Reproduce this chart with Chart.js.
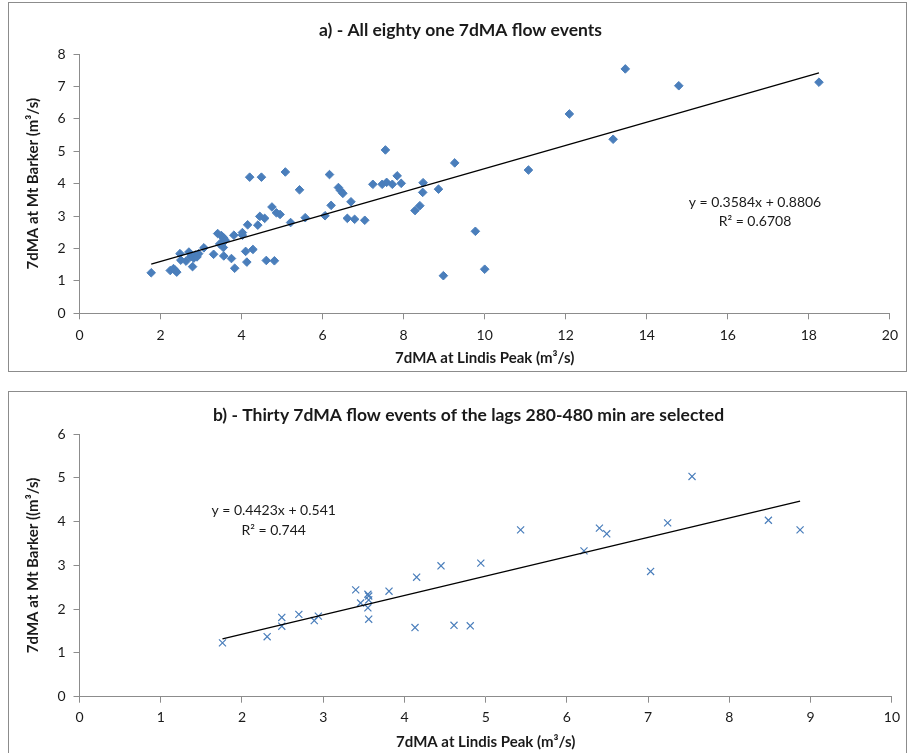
<!DOCTYPE html>
<html lang="en">
<head>
<meta charset="UTF-8">
<title>7dMA flow events - Lindis Peak vs Mt Barker</title>
<script src="https://cdn.jsdelivr.net/npm/chart.js"></script>
<style>
  html, body { margin: 0; padding: 0; background: #fff; overflow: hidden; }
  .panel { position: absolute; left: 8px; width: 897px; height: 368px; border: 1px solid #8c8c8c; background: #fff; }
  #panelA { top: 2px; }
  #panelB { top: 391px; }
  canvas { display: block; }
</style>
</head>
<body>
<div class="panel" id="panelA"><canvas id="chartA" width="897" height="368"></canvas></div>
<div class="panel" id="panelB"><canvas id="chartB" width="897" height="368"></canvas></div>

<script>
// a) all 81 events: 7dMA at Lindis Peak (x) and at Mt Barker (y), m3/s
const allLindis = [
  1.77, 2.24, 2.32, 2.40, 2.36, 2.48, 2.50, 2.63, 2.70, 2.79,
  2.75, 2.82, 2.86, 2.90, 2.94, 3.07, 3.31, 3.41, 3.46, 3.50,
  3.55, 3.56, 3.56, 3.55, 3.56, 3.60, 3.75, 3.83, 3.81, 4.02,
  4.02, 4.10, 4.13, 4.15, 4.20, 4.28, 4.40, 4.45, 4.49, 4.57,
  4.61, 4.75, 4.81, 4.86, 4.95, 5.08, 5.21, 5.43, 5.57, 6.06,
  6.17, 6.21, 6.39, 6.44, 6.50, 6.61, 6.70, 6.79, 7.04, 7.24,
  7.47, 7.55, 7.58, 7.72, 7.84, 7.94, 8.28, 8.40, 8.47, 8.48,
  8.86, 8.98, 9.26, 9.77, 10.00, 11.08, 12.09, 13.17, 13.47, 14.79,
  18.25
];
const allBarker = [
  1.25, 1.32, 1.38, 1.27, 1.33, 1.84, 1.64, 1.61, 1.89, 1.44,
  1.75, 1.70, 1.80, 1.74, 1.84, 2.02, 1.82, 2.46, 2.14, 2.40,
  2.34, 2.30, 2.21, 2.03, 1.77, 2.25, 1.69, 1.39, 2.41, 2.49,
  2.41, 1.91, 1.58, 2.73, 4.20, 1.97, 2.72, 2.99, 4.20, 2.93,
  1.63, 3.28, 1.62, 3.10, 3.05, 4.36, 2.80, 3.81, 2.95, 3.01,
  4.28, 3.33, 3.88, 3.79, 3.70, 2.93, 3.44, 2.90, 2.87, 3.98,
  3.98, 5.04, 4.04, 3.98, 4.24, 4.01, 3.17, 3.32, 3.73, 4.03,
  3.83, 1.16, 4.64, 2.53, 1.36, 4.42, 6.15, 5.37, 7.54, 7.02,
  7.13
];

// b) thirty events with lags of 280-480 min
const selLindis = [
  1.76, 2.31, 2.49, 2.49, 2.70, 2.89, 2.94, 3.40, 3.46, 3.55,
  3.56, 3.56, 3.55, 3.56, 3.81, 4.15, 4.13, 4.45, 4.61, 4.81,
  4.94, 5.43, 6.21, 6.40, 6.49, 7.03, 7.24, 7.54, 8.48, 8.87
];
const selBarker = [
  1.23, 1.37, 1.81, 1.61, 1.88, 1.74, 1.84, 2.44, 2.14, 2.34,
  2.30, 2.21, 2.03, 1.77, 2.41, 2.73, 1.58, 2.99, 1.63, 1.62,
  3.05, 3.81, 3.33, 3.85, 3.72, 2.86, 3.97, 5.03, 4.03, 3.81
];

// linear trend lines as reported on each panel
const slopeA = 0.3584, interceptA = 0.8806, r2A = 0.6708;
const slopeB = 0.4423, interceptB = 0.541, r2B = 0.744;

const xTicksA = [0, 2, 4, 6, 8, 10, 12, 14, 16, 18, 20];
const yTicksA = [0, 1, 2, 3, 4, 5, 6, 7, 8];
const xTicksB = [0, 1, 2, 3, 4, 5, 6, 7, 8, 9, 10];
const yTicksB = [0, 1, 2, 3, 4, 5, 6];

const FONT = 'Lato, "Open Sans", sans-serif';
const TEXT = '#1a1a1a';
const AXIS = '#8c8c8c';
const BLUE = '#4a7ebb';

function toPoints(xs, ys) {
  return xs.map((x, i) => ({ x: x, y: ys[i] }));
}

function trendPoints(xs, slope, intercept) {
  const lo = Math.min(...xs), hi = Math.max(...xs);
  return [{ x: lo, y: slope * lo + intercept }, { x: hi, y: slope * hi + intercept }];
}

function axis(ticks, titleText, o) {
  return {
    type: 'linear',
    min: ticks[0],
    max: ticks[ticks.length - 1],
    afterBuildTicks: s => { s.ticks = ticks.map(v => ({ value: v })); },
    afterFit: s => { if (s.isHorizontal()) s.height = o.size; else s.width = o.size; },
    grid: { display: true, drawOnChartArea: false, drawTicks: true, tickLength: 6, color: AXIS, lineWidth: 1 },
    border: { display: true, color: AXIS, width: 1 },
    ticks: { font: { family: FONT, size: 14 }, color: TEXT, padding: o.tickPad, maxRotation: 0, autoSkip: false },
    title: { display: true, text: titleText, color: TEXT, font: { family: FONT, size: 15, weight: 'bold' }, padding: o.titlePad }
  };
}

// chart heading, centred on the whole panel
const panelTitle = {
  id: 'panelTitle',
  afterDraw(chart, args, o) {
    const ctx = chart.ctx;
    ctx.save();
    ctx.font = 'bold 17.5px ' + FONT;
    ctx.fillStyle = TEXT;
    ctx.textAlign = 'center';
    ctx.textBaseline = 'middle';
    ctx.fillText(o.text, chart.width / 2 + o.dx, o.y);
    ctx.restore();
  }
};

// trend line equation and R squared
const trendLabel = {
  id: 'trendLabel',
  afterDraw(chart, args, o) {
    const ctx = chart.ctx;
    const px = chart.scales.x.getPixelForValue(o.at[0]);
    const py = chart.scales.y.getPixelForValue(o.at[1]);
    ctx.save();
    ctx.font = '14px ' + FONT;
    ctx.fillStyle = TEXT;
    ctx.textAlign = 'center';
    ctx.textBaseline = 'middle';
    o.lines.forEach((t, i) => ctx.fillText(t, px, py + i * 19.5));
    ctx.restore();
  }
};

function makeChart(id, cfg) {
  return new Chart(document.getElementById(id), {
    type: 'scatter',
    data: {
      datasets: [
        {
          data: cfg.trend,
          showLine: true,
          borderColor: '#000',
          borderWidth: 1.3,
          pointRadius: 0,
          order: 0
        },
        Object.assign({ data: cfg.points, order: 1 }, cfg.marker)
      ]
    },
    options: {
      responsive: false,
      animation: false,
      devicePixelRatio: 1,
      layout: { padding: cfg.padding },
      scales: { x: cfg.x, y: cfg.y },
      plugins: {
        legend: { display: false },
        tooltip: { enabled: false },
        panelTitle: cfg.title,
        trendLabel: cfg.label
      }
    },
    plugins: [panelTitle, trendLabel]
  });
}

makeChart('chartA', {
  points: toPoints(allLindis, allBarker),
  trend: trendPoints(allLindis, slopeA, interceptA),
  marker: { pointStyle: 'rectRot', pointRadius: 4.3, backgroundColor: BLUE, borderColor: BLUE, borderWidth: 1 },
  padding: { top: 51, right: 11.5, bottom: 0, left: 0 },
  x: axis(xTicksA, '7dMA at Lindis Peak (m\u00B3/s)', { size: 57.7, tickPad: 8, titlePad: { top: 4, bottom: 4 } }),
  y: axis(yTicksA, '7dMA at Mt Barker (m\u00B3/s)', { size: 70.5, tickPad: 8, titlePad: { top: 15, bottom: 4 } }),
  title: { text: 'a) - All eighty one 7dMA flow events', y: 27, dx: 3 },
  label: { at: [16.67, 3.42], lines: ['y = ' + slopeA + 'x + ' + interceptA, 'R\u00B2 = ' + r2A] }
});

makeChart('chartB', {
  points: toPoints(selLindis, selBarker),
  trend: trendPoints(selLindis, slopeB, interceptB),
  marker: { pointStyle: 'crossRot', pointRadius: 5, backgroundColor: BLUE, borderColor: BLUE, borderWidth: 1.2 },
  padding: { top: 42, right: 11.5, bottom: 0, left: 0 },
  x: axis(xTicksB, '7dMA at Lindis Peak (m\u00B3/s)', { size: 63.3, tickPad: 6, titlePad: { top: 4, bottom: 9 } }),
  y: axis(yTicksB, '7dMA at Mt Barker ((m\u00B3/s)', { size: 70.5, tickPad: 8, titlePad: { top: 15, bottom: 4 } }),
  title: { text: 'b) - Thirty 7dMA flow events of the lags 280-480 min are selected', y: 23, dx: 11 },
  label: { at: [2.39, 4.25], lines: ['y = ' + slopeB + 'x + ' + interceptB, 'R\u00B2 = ' + r2B] }
});
</script>
</body>
</html>
